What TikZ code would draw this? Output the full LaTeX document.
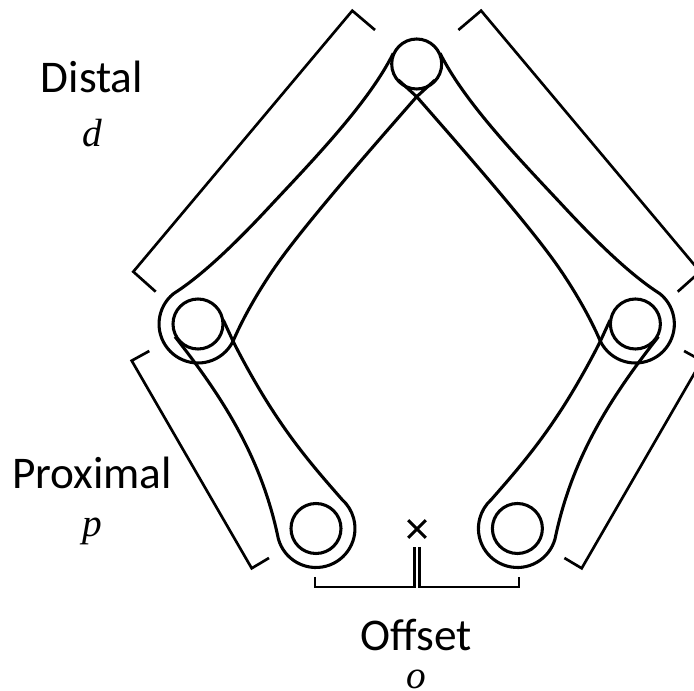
\documentclass[tikz,border=0pt]{standalone}
\usepackage{fontspec}
\setmainfont{Carlito}
\newfontfamily\symbolfont{Liberation Serif}
\usetikzlibrary{positioning, shapes.misc}

\begin{document}
\begin{tikzpicture}[
	x=0.75pt, y=-0.75pt,
	link/.style={line width=2.3pt, line join=round},
	joint/.style={draw, circle, line width=2.3pt, minimum size=37.5pt, inner sep=0pt},
	bracket/.style={line width=2pt, line join=miter},
	name label/.style={font=\fontsize{34}{40}\selectfont, inner sep=0pt, anchor=base},
	symbol label/.style={font=\fontsize{29.5}{34}\selectfont\symbolfont\itshape, inner sep=0pt, anchor=base}
	]
	\useasboundingbox (0,0) rectangle (694,691);

	% Joints
	\node[joint] (top) at (416.7,64) {};
	\node[cross out, draw, line width=2.3pt, minimum size=11pt, inner sep=0pt] (cross) at (417,529) {};

	% Links and brackets, left side then its mirror image
	\foreach \side/\flip/\off in {l/1/0, r/-1/833.4} {
		\begin{scope}[shift={(\off,0)}, xscale=\flip]
			\node[joint] (elbow \side) at (198,324) {};
			\node[joint] (base \side) at (316,528.5) {};

			\draw[link] (393.3,53.3) .. controls (370,100) and (320,153) .. (273,203)
				.. controls (225,255) and (195,280) .. (173.5,293.7)
				arc[start angle=231, end angle=25, radius=39]
				.. controls (243,318) and (258,292) .. (273,270)
				.. controls (300,230) and (370,150) .. (416.7,96.7) -- (435,80);

			\draw[link] (175,336.7) .. controls (225,400) and (262,460) .. (278.3,538.6)
				arc[start angle=165, end angle=-48, radius=39]
				.. controls (325,480) and (300,452) .. (276.7,416.7)
				.. controls (262,395) and (245,365) .. (233.3,341.7) -- (223.3,320);

			\draw[bracket] (375,30) -- (352.3,10.7) -- (133.3,271.7) -- (155.7,291.7);
			\draw[bracket] (149.3,351) -- (131.7,360.7) -- (251.7,568.3) -- (269,558);
		\end{scope}
	}

	% Offset bracket
	\draw[bracket] (315,577) |- (414.3,587) -- (414.3,547);
	\draw[bracket] (419.3,547) -- (419.3,587) -| (519,577);

	% Labels
	\node[name label] (distal) at (92,92.5) {Distal};
	\node[symbol label] (d) at (92,146.7) {d};
	\node[name label] (proximal) at (92,488.5) {Proximal};
	\node[symbol label] (p) at (92,537) {p};
	\node[name label] (offset) at (416,650.7) {Offset};
	\node[symbol label] (o) at (416,688.5) {o};
\end{tikzpicture}
\end{document}
